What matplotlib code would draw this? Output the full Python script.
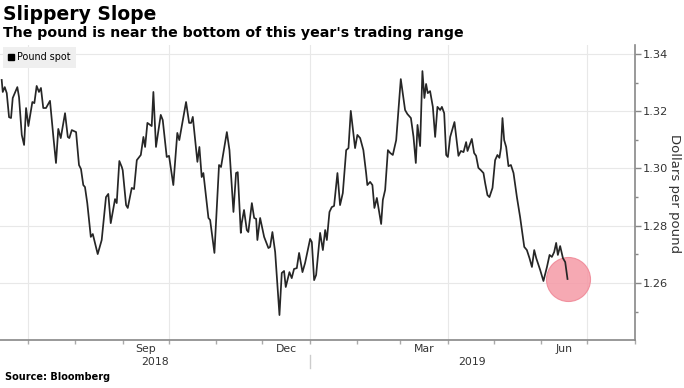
import pandas as pd
import matplotlib
matplotlib.use("Agg")
import matplotlib.pyplot as plt
import matplotlib.dates as mdates
from matplotlib.lines import Line2D
from matplotlib.ticker import MultipleLocator
import matplotlib.transforms as mtransforms

# GBP/USD spot: days after 2018-06-13 and price
start = pd.Timestamp("2018-06-13")
day_offsets = [
    1.1, 1.8, 3.1, 4.4, 5.9, 7.2, 8.3, 11.3, 12.4, 14.2, 15.7, 17.0, 18.5,
    21.1, 22.4, 23.9, 25.4, 26.7, 28.2, 30.0, 32.6, 34.8, 36.5, 38.0, 39.6,
    42.4, 44.2, 45.2, 46.8, 49.6, 51.5, 52.8, 54.3, 55.4, 56.9, 59.2, 60.5,
    63.7, 66.3, 69.1, 70.6, 72.2, 75.0, 76.1, 77.8, 79.4, 80.0, 82.2, 83.3,
    85.9, 87.4, 89.2, 91.8, 93.5, 94.6, 96.1, 98.9, 100.0, 101.7, 104.8,
    106.1, 108.7, 110.2, 113.0, 115.6, 116.9, 121.3, 123.3, 124.6, 125.7,
    128.7, 130.0, 131.5, 132.6, 135.9, 137.0, 139.8, 142.8, 144.1, 147.9,
    149.6, 152.2, 153.9, 155.0, 157.0, 157.6, 159.1, 160.9, 161.9, 164.2,
    165.7, 167.0, 167.8, 169.6, 172.2, 175.0, 176.1, 177.6, 179.4, 180.5,
    182.2, 183.7, 185.2, 186.3, 188.7, 190.2, 191.7, 193.5, 195.0, 197.2,
    198.9, 202.2, 203.3, 204.8, 206.1, 208.7, 210.5, 212.0, 213.1, 214.8,
    216.3, 217.8, 220.0, 221.7, 223.5, 225.7, 227.2, 228.7, 231.5, 233.0,
    234.8, 236.9, 238.7, 239.5, 241.3, 242.8, 244.1, 245.7, 247.2, 248.5,
    249.6, 251.1, 252.9, 254.4, 256.1, 258.3, 261.3, 264.1, 265.6, 267.9,
    269.6, 271.1, 272.2, 273.9, 275.4, 276.7, 277.8, 278.9, 280.4, 282.2,
    283.7, 285.2, 287.0, 288.1, 289.6, 290.9, 292.0, 293.5, 296.3, 298.9,
    300.5, 302.2, 303.9, 304.8, 307.6, 309.1, 310.4, 311.9, 313.5, 315.2,
    316.3, 317.8, 319.1, 321.1, 322.8, 324.3, 325.6, 326.6, 327.6, 328.7,
    330.0, 331.5, 333.1, 334.8, 337.0, 339.1, 341.8, 343.5, 345.2, 346.8,
    348.3, 349.6, 352.2, 354.3, 356.6, 358.3, 359.8, 361.3, 362.6, 363.7,
    365.2, 367.0, 368.5, 370.0,
]
prices = [
    1.3309, 1.3267, 1.3284, 1.3263, 1.3179, 1.3176, 1.3246, 1.3284, 1.3249,
    1.3117, 1.3082, 1.3211, 1.3148, 1.3232, 1.3228, 1.3288, 1.3267, 1.3281,
    1.3211, 1.3211, 1.3236, 1.3110, 1.3019, 1.3138, 1.3106, 1.3193, 1.3110,
    1.3106, 1.3134, 1.3127, 1.3012, 1.2998, 1.2942, 1.2935, 1.2879, 1.2761,
    1.2771, 1.2701, 1.2750, 1.2900, 1.2911, 1.2809, 1.2893, 1.2879, 1.3026,
    1.3005, 1.2994, 1.2872, 1.2862, 1.2932, 1.2928, 1.3029, 1.3047, 1.3110,
    1.3075, 1.3159, 1.3148, 1.3267, 1.3075, 1.3187, 1.3169, 1.3040, 1.3044,
    1.2942, 1.3124, 1.3099, 1.3232, 1.3159, 1.3159, 1.3180, 1.3023, 1.3075,
    1.2970, 1.2984, 1.2827, 1.2820, 1.2705, 1.3012, 1.3005, 1.3127, 1.3064,
    1.2848, 1.2984, 1.2987, 1.2775, 1.2809, 1.2855, 1.2785, 1.2778, 1.2879,
    1.2827, 1.2824, 1.2750, 1.2827, 1.2761, 1.2722, 1.2726, 1.2778, 1.2708,
    1.2621, 1.2488, 1.2635, 1.2642, 1.2586, 1.2638, 1.2617, 1.2649, 1.2652,
    1.2705, 1.2638, 1.2670, 1.2754, 1.2743, 1.2610, 1.2628, 1.2775, 1.2715,
    1.2785, 1.2750, 1.2848, 1.2865, 1.2869, 1.2984, 1.2872, 1.2914, 1.3064,
    1.3071, 1.3201, 1.3071, 1.3117, 1.3106, 1.3064, 1.2984, 1.2942, 1.2953,
    1.2942, 1.2862, 1.2897, 1.2848, 1.2806, 1.2890, 1.2925, 1.3064, 1.3054,
    1.3047, 1.3099, 1.3312, 1.3204, 1.3190, 1.3176, 1.3110, 1.3019, 1.3152,
    1.3078, 1.3340, 1.3246, 1.3295, 1.3263, 1.3270, 1.3215, 1.3110, 1.3215,
    1.3204, 1.3215, 1.3193, 1.3047, 1.3040, 1.3110, 1.3162, 1.3044, 1.3061,
    1.3057, 1.3092, 1.3061, 1.3103, 1.3054, 1.3044, 1.3002, 1.2994, 1.2984,
    1.2949, 1.2907, 1.2900, 1.2932, 1.3029, 1.3047, 1.3037, 1.3071, 1.3176,
    1.3099, 1.3075, 1.3008, 1.3012, 1.2984, 1.2900, 1.2830, 1.2726, 1.2715,
    1.2687, 1.2656, 1.2715, 1.2687, 1.2645, 1.2607, 1.2656, 1.2698, 1.2691,
    1.2708, 1.2740, 1.2698, 1.2729, 1.2687, 1.2673, 1.2614,
]

x_start = pd.Timestamp("2018-06-13")
x_end = pd.Timestamp("2019-08-01")
grid_dates = ["2018-07-01", "2018-10-01", "2019-01-01", "2019-04-01", "2019-07-01"]
month_labels = ["Sep", "Dec", "Mar", "Jun"]
month_starts = ["2018-09-01", "2018-12-01", "2019-03-01", "2019-06-01"]
year_labels = ["2018", "2019"]
year_break = pd.Timestamp("2019-01-01")

dates = start + pd.to_timedelta(day_offsets, unit="D")

fig = plt.figure(figsize=(6.84, 3.88), dpi=100)
ax = fig.add_axes([0.0, 48 / 388, 635 / 684, 295 / 388])

for g in grid_dates:
    ax.axvline(pd.Timestamp(g), color="#e8e8e8", lw=0.8, zorder=0)

ax.plot(dates[-1], prices[-1], "o", ms=31.7, color="#f59aa6", alpha=0.85,
        mec="#ef8594", mew=0.8, zorder=2)
ax.plot(dates, prices, color="#262626", lw=1.25, zorder=3)

ax.set_xlim(x_start, x_end)
ax.set_ylim(1.2401, 1.3431)

# y axis on the right
ax.yaxis.tick_right()
ax.yaxis.set_major_locator(MultipleLocator(0.02))
ax.yaxis.set_minor_locator(MultipleLocator(0.01))
ax.yaxis.set_major_formatter(plt.FuncFormatter(lambda v, p: f"{v:.2f}"))
ax.tick_params(axis="y", which="major", length=4, width=1, color="#888888",
               labelsize=8.2, labelcolor="#333333", pad=1.5)
ax.tick_params(axis="y", which="minor", length=2.5, width=1, color="#888888")
ax.grid(axis="y", which="major", color="#e8e8e8", lw=0.8)
ax.set_axisbelow(True)

# x axis: month ticks, quarter labels in the middle of the month
ax.xaxis.set_minor_locator(mdates.MonthLocator())
mids = [pd.Timestamp(m) + (pd.Timestamp(m) + pd.offsets.MonthBegin(1) - pd.Timestamp(m)) / 2
        for m in month_starts]
ax.set_xticks(mids)
ax.set_xticklabels(month_labels)
ax.tick_params(axis="x", which="major", length=0, labelsize=7.8,
               labelcolor="#333333", pad=3)
ax.tick_params(axis="x", which="minor", length=3, width=1, color="#aaaaaa")

for s in ["top", "left"]:
    ax.spines[s].set_visible(False)
for s in ["bottom", "right"]:
    ax.spines[s].set_color("#888888")
    ax.spines[s].set_linewidth(1.2)

trans = mtransforms.blended_transform_factory(ax.transData, ax.transAxes)
year_centers = [x_start + (year_break - x_start) / 2, year_break + (x_end - year_break) / 2]
for yl, yc in zip(year_labels, year_centers):
    ax.text(yc, -22 / 295, yl, transform=trans, ha="center", va="center",
            fontsize=7.8, color="#333333")
ax.plot([year_break, year_break], [-15 / 295, -28 / 295], transform=trans,
        color="#cccccc", lw=1, clip_on=False)

fig.text(675 / 684, 1 - 194 / 388, "Dollars per pound", rotation=270,
         ha="center", va="center", fontsize=9.5, color="#333333")

handle = Line2D([], [], marker="s", color="black", ls="none", ms=4.5)
leg = ax.legend([handle], ["Pound spot"], loc="upper left",
                bbox_to_anchor=(3 / 635, 1 - 2 / 295), borderaxespad=0,
                fontsize=6.9, handlelength=0.6, handletextpad=0.3,
                borderpad=0.55, fancybox=False, frameon=True)
leg.get_frame().set_facecolor("#efefef")
leg.get_frame().set_edgecolor("none")
leg.get_frame().set_alpha(1)

fig.text(3 / 684, 1 - 20 / 388, "Slippery Slope", fontsize=13.5,
         fontweight="bold", va="baseline", color="black")
fig.text(3 / 684, 1 - 37.5 / 388,
         "The pound is near the bottom of this year's trading range",
         fontsize=10.2, fontweight="bold", va="baseline", color="black")
fig.text(5 / 684, 1 - 377 / 388, "Source: Bloomberg", fontsize=7,
         fontweight="bold", va="center", color="black")

fig.savefig("out.png", dpi=100)
